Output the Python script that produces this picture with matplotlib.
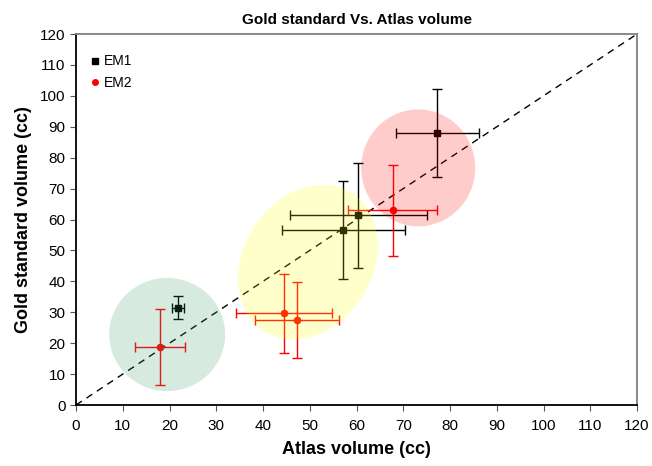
import numpy as np
import matplotlib
matplotlib.use('Agg')
import matplotlib.pyplot as plt
from matplotlib.patches import Ellipse
from matplotlib.lines import Line2D
from matplotlib.transforms import Affine2D

plt.rcParams['font.family'] = ['Liberation Sans', 'DejaVu Sans']

# EM1 (black squares)
em1_x = [21.8, 57.2, 60.4, 77.3]
em1_y = [31.4, 56.6, 61.4, 87.9]
em1_xerr = [1.3, 13.1, 14.6, 8.8]
em1_yerr = [3.7, 15.7, 17.0, 14.3]

# EM2 (red circles)
em2_x = [18.0, 44.5, 47.2, 67.7]
em2_y = [18.8, 29.7, 27.5, 63.0]
em2_xerr = [5.4, 10.2, 9.0, 9.5]
em2_yerr = [12.3, 12.8, 12.3, 14.7]

# shaded groups: centre x, centre y, width (x units), height (x units), angle
groups_cx = [19.5, 49.6, 73.2]
groups_cy = [22.8, 46.2, 76.7]
groups_w = [24.8, 35.1, 24.4]
groups_h = [24.2, 27.6, 25.0]
groups_angle = [0, 57.7, 0]
groups_color = [(0.2, 0.6, 0.4), (1.0, 1.0, 0.0), (1.0, 0.0, 0.0)]

fig = plt.figure(figsize=(6.52, 4.66), dpi=100)
ax = fig.add_axes([0.1166, 0.1309, 0.8604, 0.7961])

ax.plot([0, 120], [0, 120], 'k--', lw=1, dashes=(5, 4))

ax.errorbar(em1_x, em1_y, xerr=em1_xerr, yerr=em1_yerr, fmt='s', color='black',
            ms=4.5, elinewidth=1, capsize=3.5, capthick=1)
ax.errorbar(em2_x, em2_y, xerr=em2_xerr, yerr=em2_yerr, fmt='o', color='red',
            ms=4.5, elinewidth=1, capsize=3.5, capthick=1)

# y scale relative to x in pixels so the shapes are drawn in equal units
r = (371 / 120) / (561 / 120)
tr = Affine2D().scale(1, 1 / r) + ax.transData
for cx, cy, w, h, a, c in zip(groups_cx, groups_cy, groups_w, groups_h, groups_angle, groups_color):
    e = Ellipse((cx, cy * r), w, h, angle=a, facecolor=c, edgecolor='none',
                alpha=0.2, transform=tr, zorder=5)
    ax.add_patch(e)

ax.set_xlim(0, 120)
ax.set_ylim(0, 120)
ax.set_xticks(np.arange(0, 121, 10))
ax.set_yticks(np.arange(0, 121, 10))
ax.tick_params(labelsize=11, direction='out', length=4, color='#555555')
ax.tick_params(axis='x', pad=6)
for s in ['left', 'bottom']:
    ax.spines[s].set_linewidth(1.3)
for s in ['top', 'right']:
    ax.spines[s].set_color('#808080')
    ax.spines[s].set_linewidth(1.3)
ax.set_xlabel('Atlas volume (cc)', fontsize=13, fontweight='bold', labelpad=6)
ax.set_ylabel('Gold standard volume (cc)', fontsize=13, fontweight='bold', labelpad=6)
ax.set_title('Gold standard Vs. Atlas volume', fontsize=11, fontweight='bold', pad=7)

handles = [Line2D([], [], ls='none', marker='s', color='black', ms=4),
           Line2D([], [], ls='none', marker='o', color='red', ms=4)]
ax.legend(handles, ['EM1', 'EM2'], loc='upper left', bbox_to_anchor=(0.0166, 0.960),
          frameon=False, fontsize=10, handlelength=0.6, handletextpad=0.3,
          borderaxespad=0, labelspacing=0.55)

fig.savefig('out.png', dpi=100)
